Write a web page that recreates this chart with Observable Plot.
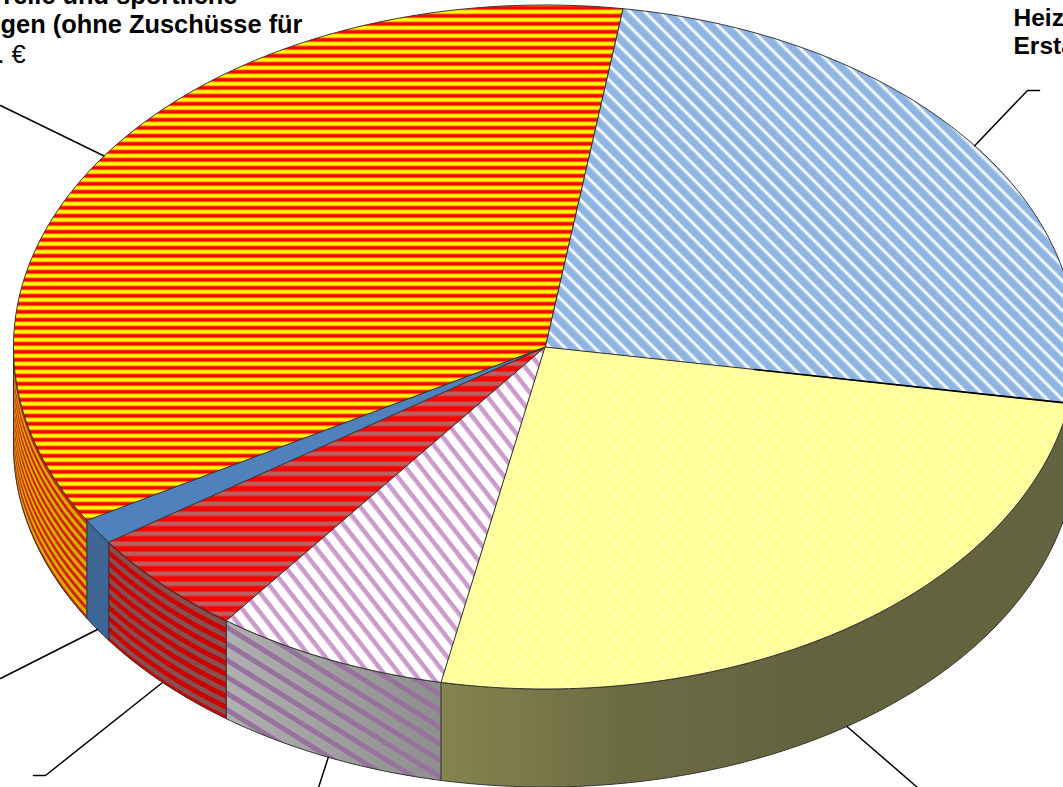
<!DOCTYPE html>
<html>
<head>
<meta charset="utf-8">
<script src="https://cdn.jsdelivr.net/npm/d3@7"></script>
<script src="https://cdn.jsdelivr.net/npm/@observablehq/plot@0.6"></script>
<style>
  html, body { margin: 0; padding: 0; background: #fff; }
  body { width: 1063px; height: 787px; overflow: hidden; }
</style>
</head>
<body>
<div id="chart"></div>
<script>
// Slice shares in percent, clockwise from the first slice edge
const sliceKeys = ["heizung", "gelb", "lila", "rot", "blau", "kultur"];
const sliceShares = [25.3, 25.5, 7.1, 5.1, 1.2, 35.8];
const firstEdgeDegrees = 8.4;

// Visible label text, each line clipped by the page edge
const leftLabelFirst = ["relle und sportliche"];
const leftLabelSecond = ["gen (ohne Zuschüsse für"];
const leftLabelTail = [". €"];
const rightLabelLines = ["Heiz", "Ersta"];

// Pie geometry in page units
const W = 1063, H = 787;
const cx = 544.5, cy = 346.5, rx = 531.5, ry = 342, depth = 98;
const rad = Math.PI / 180;
const rimX = a => cx + rx * Math.sin(a * rad);
const rimY = a => cy - ry * Math.cos(a * rad);
const arcAngles = (a0, a1) => {
  const out = [];
  for (let a = a0; a < a1; a += 0.5) out.push(a);
  out.push(a1);
  return out;
};

// Slice extents in degrees
let edge = firstEdgeDegrees;
const slices = sliceKeys.map((key, i) => {
  const a0 = edge;
  const a1 = edge + sliceShares[i] * 3.6;
  edge = a1;
  return {key, a0, a1, mid: (a0 + a1) / 2};
});
const byKey = Object.fromEntries(slices.map(d => [d.key, d]));

// Closed outline of a slice's top face
const topFace = s => [
  {x: cx, y: cy},
  ...arcAngles(s.a0, s.a1).map(a => ({x: rimX(a), y: rimY(a)}))
];

// Closed outline of the outer wall, limited to the part facing the viewer
const wallFace = (a0, a1) => {
  const from = Math.max(a0, 90), to = Math.min(a1, 270);
  const arc = arcAngles(from, to);
  return [
    ...arc.map(a => ({x: rimX(a), y: rimY(a)})),
    ...arc.slice().reverse().map(a => ({x: rimX(a), y: rimY(a) + depth}))
  ];
};

// Stripes that run parallel to the rim, held between the wall's two edges
const rimStripes = (a0, a1, period, width, phase) => {
  const from = Math.max(a0, 90), to = Math.min(a1, 270);
  const rows = [];
  for (let k = -1; k * period < depth; k++) {
    for (const a of arcAngles(from, to)) {
      const top = rimY(a);
      const start = top + phase + k * period;
      rows.push({
        k,
        x: rimX(a),
        y1: Math.min(Math.max(start, top), top + depth),
        y2: Math.min(Math.max(start + width, top), top + depth)
      });
    }
  }
  return rows;
};

const faceFills = {
  heizung: "url(#faceHeizung)",
  gelb: "url(#faceGelb)",
  lila: "url(#faceLila)",
  rot: "url(#faceRot)",
  blau: "#4f81bd",
  kultur: "url(#faceKultur)"
};

const outline = "#333";
const closed = {x: "x", y: "y", curve: "linear-closed"};
const marks = [];

// Outer walls
const kulturWall = wallFace(byKey.kultur.a0, byKey.kultur.a1);
marks.push(Plot.line(kulturWall, {...closed, fill: "#d8ac00", stroke: "none"}));
marks.push(Plot.area(rimStripes(byKey.kultur.a0, 270, 9.5, 4.6, 0), {x1: "x", x2: "x", y1: "y1", y2: "y2", z: "k", fill: "#cf2200"}));
marks.push(Plot.line(kulturWall, {...closed, fill: "none", stroke: outline, strokeWidth: 1}));

const rotWall = wallFace(byKey.rot.a0, byKey.rot.a1);
marks.push(Plot.line(rotWall, {...closed, fill: "#cc0000", stroke: "none"}));
marks.push(Plot.area(rimStripes(byKey.rot.a0, byKey.rot.a1, 11, 5.5, 1.5), {x1: "x", x2: "x", y1: "y1", y2: "y2", z: "k", fill: "#855050"}));
marks.push(Plot.line(rotWall, {...closed, fill: "none", stroke: outline, strokeWidth: 1}));

marks.push(Plot.line(wallFace(byKey.blau.a0, byKey.blau.a1), {...closed, fill: "#3f6595", stroke: outline, strokeWidth: 1}));

const lilaWall = wallFace(byKey.lila.a0, byKey.lila.a1);
marks.push(Plot.line(lilaWall, {...closed, fill: "url(#wallLilaBase)", stroke: "none"}));
marks.push(Plot.line(lilaWall, {...closed, fill: "url(#wallLila)", stroke: outline, strokeWidth: 1}));

marks.push(Plot.line(wallFace(byKey.gelb.a0, byKey.gelb.a1), {...closed, fill: "url(#wallGelb)", stroke: outline, strokeWidth: 1}));
marks.push(Plot.line(wallFace(byKey.heizung.a0, byKey.heizung.a1), {...closed, fill: "#5f6f88", stroke: outline, strokeWidth: 1}));

// Top faces
for (const s of slices) {
  marks.push(Plot.line(topFace(s), {...closed, fill: faceFills[s.key], stroke: outline, strokeWidth: 1}));
}
// The edge between the first two slices reads heavier toward the rim
marks.push(Plot.line(
  [{x: cx + (rimX(byKey.gelb.a0) - cx) * 0.4, y: cy + (rimY(byKey.gelb.a0) - cy) * 0.4},
   {x: rimX(byKey.gelb.a0), y: rimY(byKey.gelb.a0)}],
  {x: "x", y: "y", stroke: "#000", strokeWidth: 1.6}
));

// Leader lines start on the rim at each slice's middle angle
const leaders = [
  {key: "kultur", wall: false, path: [[0, 105]]},
  {key: "heizung", wall: false, path: [[1027, 90], [1039, 90]]},
  {key: "gelb", wall: true, path: [[917, 787]]},
  {key: "lila", wall: true, path: [[318, 787]]},
  {key: "rot", wall: true, path: [[45, 775], [33, 775]]},
  {key: "blau", wall: true, path: [[0, 678]]}
];
for (const l of leaders) {
  const m = byKey[l.key].mid;
  const pts = [
    {x: rimX(m), y: rimY(m) + (l.wall ? depth : 0)},
    ...l.path.map(([x, y]) => ({x, y}))
  ];
  marks.push(Plot.line(pts, {x: "x", y: "y", stroke: "#000", strokeWidth: 1.5}));
}

// Labels
const labelStyle = {fontFamily: "'Liberation Sans', Arial, sans-serif", fontWeight: "bold", fontSize: 25.4, lineAnchor: "bottom", fill: "#000"};
marks.push(Plot.text(leftLabelFirst, {x: () => 237, y: () => 3, text: d => d, textAnchor: "end", ...labelStyle}));
marks.push(Plot.text(leftLabelSecond, {x: () => 302, y: () => 32, text: d => d, textAnchor: "end", ...labelStyle}));
marks.push(Plot.text(leftLabelTail, {x: () => -3, y: () => 62, text: d => d, textAnchor: "start", ...labelStyle, fontWeight: "normal"}));
marks.push(Plot.text(rightLabelLines, {x: () => 1013, y: (d, i) => 25 + i * 28, text: d => d, textAnchor: "start", ...labelStyle, fontSize: 24.5}));

const svg = Plot.plot({
  width: W,
  height: H,
  margin: 0,
  x: {domain: [0, W], range: [0, W], axis: null},
  y: {domain: [0, H], range: [0, H], axis: null},
  style: {background: "#fff"},
  marks
});

// Stripe and dot fills referenced by the slices
svg.insertAdjacentHTML("afterbegin", `
<defs>
  <pattern id="faceKultur" width="8" height="8" patternUnits="userSpaceOnUse" patternTransform="translate(0,5)">
    <rect width="8" height="8" fill="#ffff00"/>
    <rect y="0" width="8" height="0.5" fill="#ff8000"/>
    <rect y="0.5" width="8" height="3.5" fill="#ff0000"/>
    <rect y="4" width="8" height="0.5" fill="#ff9000"/>
  </pattern>
  <pattern id="faceHeizung" width="10.5" height="10.5" patternUnits="userSpaceOnUse" patternTransform="rotate(45)">
    <rect width="10.5" height="10.5" fill="#8db4e2"/>
    <rect y="2" width="10.5" height="1" fill="#c6daf1"/>
    <rect y="3" width="10.5" height="2" fill="#ffffff"/>
    <rect y="5" width="10.5" height="1" fill="#c6daf1"/>
  </pattern>
  <pattern id="faceGelb" width="12" height="12" patternUnits="userSpaceOnUse">
    <rect width="12" height="12" fill="#ffff99"/>
    <circle cx="3" cy="3" r="2" fill="#ffffb4"/>
    <circle cx="9" cy="9" r="2" fill="#ffffb4"/>
  </pattern>
  <pattern id="faceLila" width="12" height="12" patternUnits="userSpaceOnUse" patternTransform="rotate(52)">
    <rect width="12" height="12" fill="#ffffff"/>
    <rect y="2" width="12" height="4.5" fill="#cc99cc"/>
  </pattern>
  <pattern id="faceRot" width="10" height="10" patternUnits="userSpaceOnUse">
    <rect width="10" height="10" fill="#ff0000"/>
    <rect y="1" width="10" height="4.5" fill="#b86060"/>
  </pattern>
  <pattern id="wallLila" width="14" height="14" patternUnits="userSpaceOnUse" patternTransform="rotate(32)">
    <rect y="3" width="14" height="5" fill="#96729c"/>
  </pattern>
  <linearGradient id="wallLilaBase" gradientUnits="userSpaceOnUse" x1="225" x2="441" y1="0" y2="0">
    <stop offset="0" stop-color="#b0b0b0"/>
    <stop offset="1" stop-color="#8e8e8e"/>
  </linearGradient>
  <linearGradient id="wallGelb" gradientUnits="userSpaceOnUse" x1="441" x2="800" y1="0" y2="0">
    <stop offset="0" stop-color="#858550"/>
    <stop offset="0.5" stop-color="#6c6c44"/>
    <stop offset="1" stop-color="#636340"/>
  </linearGradient>
</defs>`);

document.getElementById("chart").appendChild(svg);
</script>
</body>
</html>
